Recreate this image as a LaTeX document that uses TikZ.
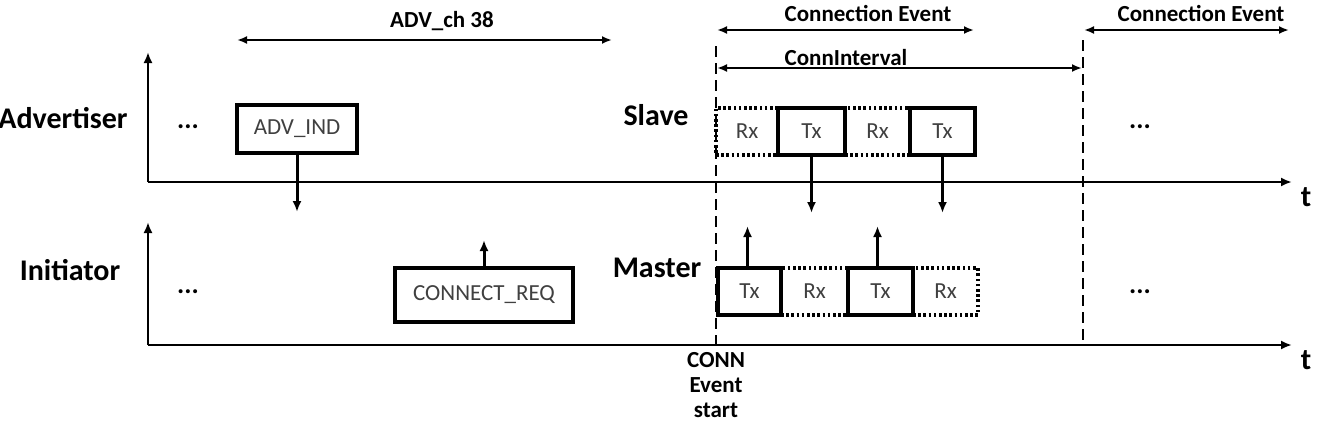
\documentclass[tikz,border=0pt]{standalone}
\usepackage{fontspec}
\setmainfont{Carlito}
\usetikzlibrary{arrows.meta}

\begin{document}
\begin{tikzpicture}[x=1pt,y=-1pt,
  tip/.style={-{Latex[length=11pt,width=9pt]}},
  axisline/.style={line width=2.3pt,tip},
  sigline/.style={line width=3pt,tip},
  spanline/.style={line width=2.2pt,{Latex[length=10pt,width=8pt]}-{Latex[length=10pt,width=8pt]}},
  evline/.style={line width=2.2pt,dash pattern=on 11pt off 6pt},
  rolelabel/.style={font=\bfseries\fontsize{30}{30}\selectfont,inner sep=0pt},
  spanlabel/.style={font=\bfseries\fontsize{23}{24}\selectfont,inner sep=0pt},
  pkttext/.style={font=\fontsize{23}{24}\selectfont,text=black!75,inner sep=0pt},
  txbox/.style={pkttext,draw,line width=4pt,fill=white},
  rxbox/.style={pkttext,draw,line width=3.2pt,dash pattern=on 2.6pt off 2.6pt},
  dots/.style={font=\bfseries\fontsize{27}{27}\selectfont,inner sep=0pt},
]
\useasboundingbox (0,0) rectangle (1326,437);

% time axes
\coordinate (uo) at (148,182);
\coordinate (uy) at (148,52);
\coordinate (ux) at (1292,182);
\coordinate (lo) at (148,345);
\coordinate (ly) at (148,222);
\coordinate (lx) at (1292,345);
\draw[axisline] (uo) -- (uy);
\draw[axisline] (uo) -- (ux);
\draw[axisline] (lo) -- (ly);
\draw[axisline] (lo) -- (lx);
\node[rolelabel] (tu) at (1306,197) {t};
\node[rolelabel] (tl) at (1306,360) {t};

% role labels
\node[rolelabel] (adv) at (63,118) {Advertiser};
\node[rolelabel] (ini) at (70,270) {Initiator};
\node[rolelabel] (slv) at (656,115) {Slave};
\node[rolelabel] (mst) at (657,268) {Master};

% continuation marks
\node[dots] (d1) at (188,127) {...};
\node[dots] (d2) at (188,292) {...};
\node[dots] (d3) at (1140,127) {...};
\node[dots] (d4) at (1140,292) {...};

% advertising phase
\node[txbox,minimum width=120pt,minimum height=48pt] (advind) at (297,129) {ADV\_IND};
\node[txbox,minimum width=178pt,minimum height=54pt] (creq) at (484,295) {CONNECT\_REQ};
\coordinate (advindend) at (297,212);
\coordinate (creqend) at (484,240);
\draw[sigline] (advind.south) -- (advindend);
\draw[sigline] (creq.north) -- (creqend);

% connection event boundaries
\coordinate (ev1top) at (716,46);
\coordinate (ev1bot) at (716,345);
\coordinate (ev2top) at (1083,40);
\coordinate (ev2bot) at (1083,345);
\draw[evline] (ev1top) -- (ev1bot);
\draw[evline] (ev2top) -- (ev2bot);

% spans
\coordinate (a1) at (237,40);
\coordinate (a2) at (612,40);
\draw[spanline] (a1) -- (a2);
\node[spanlabel] (advch) at (442,21) {ADV\_ch 38};

\coordinate (c1) at (717,30);
\coordinate (c2) at (974,30);
\draw[spanline] (c1) -- (c2);
\node[spanlabel] (ce1) at (868,13) {Connection Event};

\coordinate (c3) at (1084,30);
\coordinate (c4) at (1289,30);
\draw[spanline] (c3) -- (c4);
\node[spanlabel] (ce2) at (1201,13) {Connection Event};

\coordinate (i1) at (717,68);
\coordinate (i2) at (1082,68);
\draw[spanline] (i1) -- (i2);
\node[spanlabel] (ci) at (846,58) {ConnInterval};

% slave slots
\node[rxbox,minimum width=62pt,minimum height=47pt] (srx1) at (747,131.5) {Rx};
\node[rxbox,minimum width=65pt,minimum height=47pt] (srx2) at (877.5,131.5) {Rx};
\node[txbox,minimum width=67pt,minimum height=47pt] (stx1) at (811.5,131.5) {Tx};
\node[txbox,minimum width=65pt,minimum height=47pt] (stx2) at (942.5,131.5) {Tx};

% master slots
\node[rxbox,minimum width=67pt,minimum height=47pt] (mrx1) at (814.5,291.5) {Rx};
\node[rxbox,minimum width=65pt,minimum height=47pt] (mrx2) at (945.5,291.5) {Rx};
\node[txbox,minimum width=63pt,minimum height=47pt] (mtx1) at (749.5,291.5) {Tx};
\node[txbox,minimum width=65pt,minimum height=47pt] (mtx2) at (880.5,291.5) {Tx};

% packet exchanges
\coordinate (s1end) at (811.5,213);
\coordinate (s2end) at (942.5,213);
\coordinate (m1end) at (747.5,226);
\coordinate (m2end) at (877.5,226);
\draw[sigline] (stx1.south) -- (s1end);
\draw[sigline] (stx2.south) -- (s2end);
\draw[sigline] (mtx1.north -| m1end) -- (m1end);
\draw[sigline] (mtx2.north -| m2end) -- (m2end);

% event start label
\node[spanlabel,align=center] (cs) at (716,385) {CONN\\[1pt]Event\\[1pt]start};
\end{tikzpicture}
\end{document}
